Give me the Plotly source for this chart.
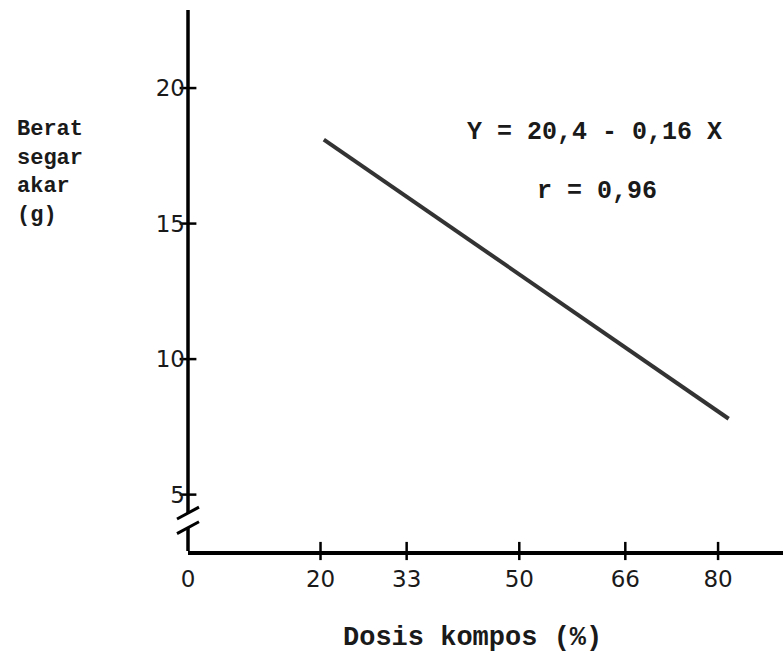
import plotly.graph_objects as go

# Data
dose_line = [20.5, 81.6]          # Dosis kompos (%) at line ends
weight_line = [18.1, 7.8]         # Berat segar akar (g) at line ends
x_ticks = [0, 20, 33, 50, 66, 80]
x_tick_labels = ["0", "20", "33", "50", "66", "80"]
y_ticks = [5, 10, 15, 20]
y_tick_labels = ["5", "10", "15", "20"]
equation = "Y = 20,4 - 0,16 X"
corr = "r = 0,96"

Y_MIN, Y_MAX = 2.92, 22.88
X_MIN, X_MAX = 0, 89.8
BREAK_LO, BREAK_HI = 3.78, 4.32


def yp(v):
    return (v - Y_MIN) / (Y_MAX - Y_MIN)


mono = "Liberation Mono"
digits = "DejaVu Sans"
ink = "#1a1a1a"

fig = go.Figure()

# regression line
fig.add_trace(go.Scatter(
    x=dose_line, y=weight_line, mode="lines",
    line=dict(color="#333333", width=4), hoverinfo="skip", showlegend=False))

# crossing tick marks on x axis
fig.add_trace(go.Scatter(
    x=x_ticks[1:], y=[Y_MIN] * (len(x_ticks) - 1), mode="markers",
    marker=dict(symbol="line-ns-open", size=13, color="black",
                line=dict(color="black", width=2.5)),
    cliponaxis=False, hoverinfo="skip", showlegend=False))

# crossing tick marks on y axis
fig.add_trace(go.Scatter(
    x=[X_MIN] * len(y_ticks), y=y_ticks, mode="markers",
    marker=dict(symbol="line-ew-open", size=12, color="black",
                line=dict(color="black", width=2.5)),
    cliponaxis=False, hoverinfo="skip", showlegend=False))

shapes = [
    # y axis line with a break
    dict(type="line", xref="paper", yref="paper", x0=0, x1=0, y0=yp(BREAK_HI), y1=1,
         line=dict(color="black", width=3.5)),
    dict(type="line", xref="paper", yref="paper", x0=0, x1=0, y0=0, y1=yp(BREAK_LO),
         line=dict(color="black", width=3.5)),
    # break slashes
    dict(type="line", xref="paper", yref="paper", xsizemode="pixel", xanchor=0,
         x0=-11, x1=11, y0=yp(BREAK_HI - 0.22), y1=yp(BREAK_HI + 0.22),
         line=dict(color="black", width=3)),
    dict(type="line", xref="paper", yref="paper", xsizemode="pixel", xanchor=0,
         x0=-11, x1=11, y0=yp(BREAK_LO - 0.22), y1=yp(BREAK_LO + 0.22),
         line=dict(color="black", width=3)),
]

annotations = [
    dict(text=equation, x=0.684, y=0.773, xref="paper", yref="paper",
         xanchor="center", yanchor="middle",
         showarrow=False, font=dict(family=mono, size=25, color=ink, weight="bold")),
    dict(text=corr, x=0.687, y=0.664, xref="paper", yref="paper",
         xanchor="center", yanchor="middle",
         showarrow=False, font=dict(family=mono, size=25, color=ink, weight="bold")),
    dict(text="Berat<br>segar<br>akar<br>(g)", x=-0.29, y=0.806, xref="paper", yref="paper",
         xanchor="left", yanchor="top", align="left", showarrow=False,
         font=dict(family=mono, size=22, color=ink, weight="bold")),
    dict(text="Dosis kompos (%)", x=0.478, y=-0.161, xref="paper", yref="paper",
         xanchor="center", yanchor="middle",
         showarrow=False, font=dict(family=mono, size=27, color=ink, weight="bold")),
]

fig.update_layout(
    width=783, height=655,
    margin=dict(l=188, r=0, t=10, b=104),
    paper_bgcolor="white", plot_bgcolor="white",
    shapes=shapes, annotations=annotations,
    xaxis=dict(range=[X_MIN, X_MAX], showgrid=False, zeroline=False,
               showline=True, linecolor="black", linewidth=3.5,
               tickmode="array", tickvals=x_ticks, ticktext=x_tick_labels,
               ticks="", ticklabelstandoff=5,
               tickfont=dict(family=digits, size=23, color=ink)),
    yaxis=dict(range=[Y_MIN, Y_MAX], showgrid=False, zeroline=False,
               showline=False,
               tickmode="array", tickvals=y_ticks, ticktext=y_tick_labels,
               ticks="", ticklabelstandoff=2,
               tickfont=dict(family=digits, size=23, color=ink)),
)

fig.write_html("out.html", config={"displayModeBar": False},
               post_script="document.body.style.margin='0';document.body.style.overflow='hidden';")
